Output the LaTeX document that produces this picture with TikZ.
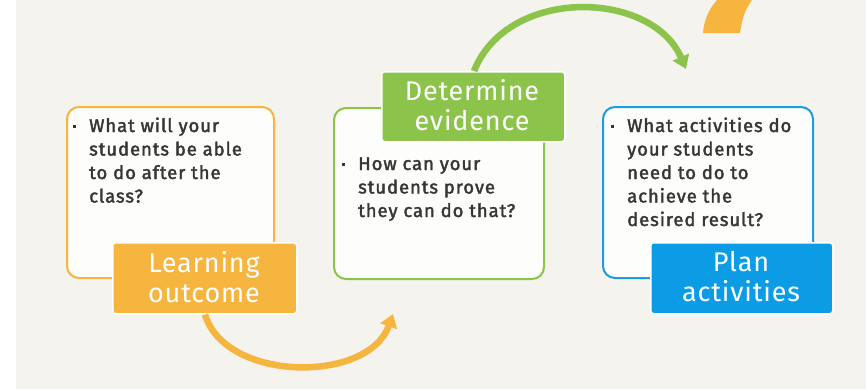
\documentclass[tikz,border=0pt]{standalone}
\usepackage{fontspec}
\setmainfont{Fira Sans}[LetterSpace=3]
\newfontfamily\qfont{Fira Sans}[FakeBold=2,LetterSpace=5]
\usetikzlibrary{arrows.meta}
\definecolor{bgc}{HTML}{F4F3EE}
\definecolor{orng}{HTML}{F5B53F}
\definecolor{grn}{HTML}{8CC34B}
\definecolor{blu}{HTML}{1A9CE0}
\definecolor{blulab}{HTML}{0B9CE5}
\definecolor{boxfill}{HTML}{FDFDFB}
\definecolor{txt}{HTML}{363636}
\newcommand{\mybul}{\makebox[15pt][l]{\hspace{-1.5pt}\rule[4.5pt]{3pt}{3pt}}}
\tikzset{
  qbox/.style={draw=#1, line width=2pt, fill=boxfill, rounded corners=12pt},
  labbox/.style={fill=#1, draw=white, line width=1.5pt, rounded corners=3pt},
  qtext/.style={anchor=base west, inner sep=0pt, text=txt, font=\qfont\fontsize{18.5}{23.5}\selectfont},
  labtext/.style={anchor=base, inner sep=0pt, text=white, font=\fontsize{27}{30}\selectfont},
  arc/.style={draw=#1, line width=6.5pt, -{Triangle[length=13pt,width=17pt]}}
}
\begin{document}
\begin{tikzpicture}[x=1pt,y=-1pt]
\path[use as bounding box, fill=bgc] (0,0) rectangle (866,389);
\fill[white] (0,0) rectangle (16,389);
% top right partial orange shape
\fill[orng] (703,33) -- (740,33) .. controls (742,18) and (746,8) .. (752,0) -- (717,0) .. controls (709,9) and (704,20) .. (703,33) -- cycle;
% boxes
\node[qbox=orng, minimum width=207pt, minimum height=171pt, anchor=north west, inner sep=0pt] (b1) at (66,106) {};
\node[qbox=grn, minimum width=210pt, minimum height=171pt, anchor=north west, inner sep=0pt] (b2) at (333,107) {};
\node[qbox=blu, minimum width=210pt, minimum height=171pt, anchor=north west, inner sep=0pt] (b3) at (602,106) {};
% labels
\node[labbox=orng, minimum width=184pt, minimum height=71pt, anchor=north west, inner sep=0pt] (l1) at (112,242) {};
\node[labbox=grn, minimum width=183pt, minimum height=70pt, anchor=north west, inner sep=0pt] (l2) at (381,71) {};
\node[labbox=blulab, minimum width=182pt, minimum height=71pt, anchor=north west, inner sep=0pt] (l3) at (650,242) {};
% label texts
\node[labtext] (t1) at (204,272) {\parbox[t]{180pt}{\centering Learning\\outcome}};
\node[labtext] (t2) at (472,100) {\parbox[t]{180pt}{\centering Determine\\evidence}};
\node[labtext] (t3) at (741,271) {\parbox[t]{180pt}{\centering Plan\\activities}};
% question texts
\node[qtext] (q1) at (74,132) {\parbox[t]{195pt}{\hangindent=15pt\hangafter=1\noindent\mybul What will your\\students be able\\to do after the\\class?}};
\node[qtext] (q2) at (343,170) {\parbox[t]{195pt}{\hangindent=15pt\hangafter=1\noindent\mybul How can your\\students prove\\they can do that?}};
\node[qtext] (q3) at (612,132) {\parbox[t]{195pt}{\hangindent=15pt\hangafter=1\noindent\mybul What activities do\\your students\\need to do to\\achieve the\\desired result?}};
% arrows
\draw[arc=orng] (l1.south west) ++(93,0) coordinate (a1s)
  (a1s) .. controls (225,382) and (368,384) .. (393,314) coordinate (a1e);
\draw[arc=grn] (l2.north west) ++(93,0) coordinate (a2s)
  (a2s) .. controls (508,-14) and (652,-10) .. (686,69) coordinate (a2e);
\end{tikzpicture}
\end{document}
